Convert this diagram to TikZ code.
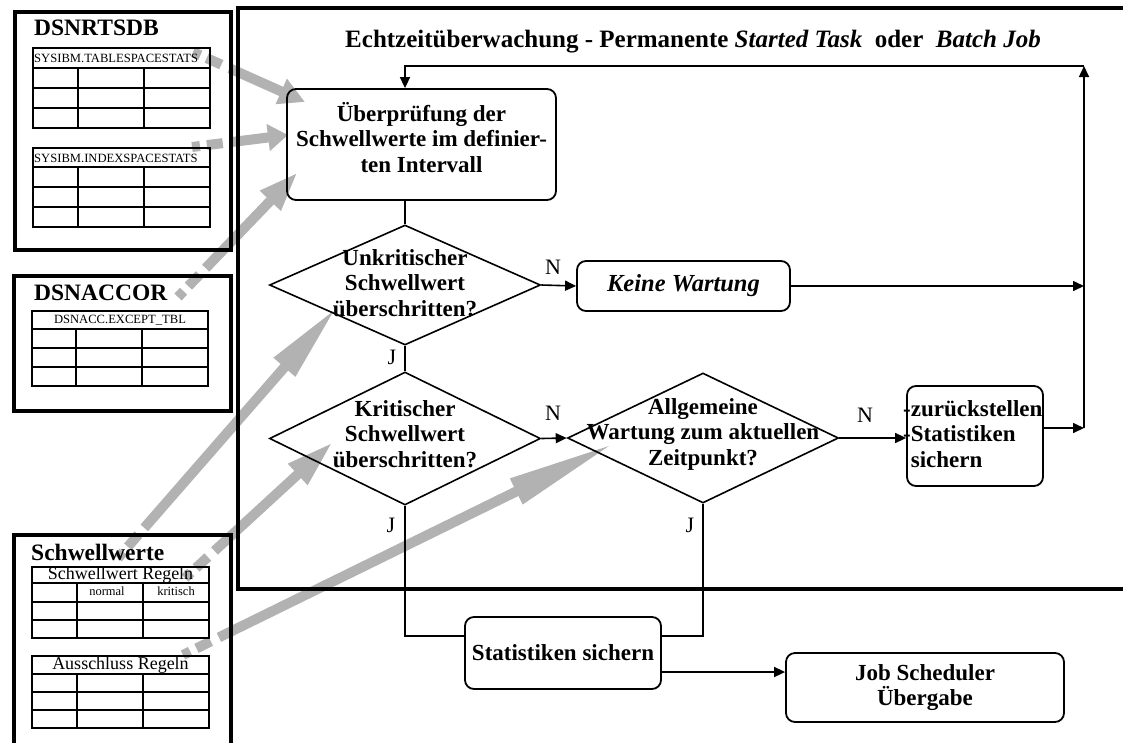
\documentclass[tikz,border=0pt]{standalone}
\usepackage{fontspec}
\setmainfont{Liberation Serif}
\usetikzlibrary{arrows.meta,shapes.geometric,calc}
\begin{document}
\begin{tikzpicture}[x=1pt,y=-1pt,
  flow/.style={line width=1.6pt},
  arr/.style={flow,-{Triangle[length=11pt,width=10pt]}},
  rbox/.style={draw,line width=1.8pt,rounded corners=9pt,inner sep=0pt,align=center,font=\fontsize{23}{25.5}\selectfont\bfseries},
  dia/.style={draw,diamond,line width=1.6pt,inner sep=0pt,minimum width=271pt},
  btext/.style={align=center,inner sep=0pt,font=\fontsize{23}{25.5}\selectfont\bfseries},
  lbl/.style={inner sep=0pt,font=\fontsize{22}{22}\selectfont},
  frame/.style={draw,line width=3.5pt},
  cont/.style={frame,rectangle,inner sep=0pt,anchor=north west},
  ttl/.style={anchor=west,inner sep=0pt,font=\fontsize{23.5}{23.5}\selectfont\bfseries},
  hdr/.style={inner sep=0pt,font=\fontsize{12.6}{12.6}\selectfont},
  hdrbig/.style={inner sep=0pt,font=\fontsize{18}{18}\selectfont},
  small/.style={inner sep=0pt,font=\fontsize{12.5}{12.5}\selectfont},
  tbl/.style={line width=2.3pt},
  grayarr/.style={color=black!30,line width=10pt,dash pattern=on 8pt off 7pt on 16pt off 9pt on 3000pt off 1pt,-{Triangle[length=#1,width=26pt]}},
  grayarr/.default=24pt
]
\useasboundingbox (0,0) rectangle (1123,742);

% gray arrow end points
\coordinate (g1s) at (193,52);  \coordinate (g1e) at (305,102);
\coordinate (g2s) at (192,147); \coordinate (g2e) at (288,135);
\coordinate (g3s) at (178,297); \coordinate (g3e) at (298,172);
\coordinate (gAs) at (118,558); \coordinate (gAe) at (337,307);
\coordinate (gBs) at (185,578); \coordinate (gBe) at (333,442);
\coordinate (gCs) at (183,655); \coordinate (gCe) at (615,443);
\draw[grayarr=26pt] (g1s) -- (g1e);
\draw[grayarr=20pt] (g2s) -- (g2e);
\draw[grayarr=40pt] (g3s) -- (g3e);
\draw[grayarr=80pt] (gAs) -- (gAe);
\draw[grayarr=48pt] (gBs) -- (gBe);
\draw[grayarr=110pt] (gCs) -- (gCe);

% main frame
\coordinate (mfTR) at (1128,8);
\coordinate (mfBR) at (1128,589);
\draw[frame] (mfTR) -- (238,8) -- (238,589) -- (mfBR);
\node[inner sep=0pt,font=\fontsize{25}{25}\selectfont\bfseries] (title) at (693,42)
  {Echtzeitüberwachung - Permanente \textit{Started Task}\ \ oder\ \ \textit{Batch Job}};

% left containers
\node[cont,minimum width=216pt,minimum height=238pt] (rtsdb) at (13,10) {};
\node[ttl] (rtsdbt) at (34,28) {DSNRTSDB};
\draw[tbl] (33,48) rectangle (210,128);
\draw[tbl] (33,68) -- (210,68) (33,88) -- (210,88) (33,108) -- (210,108) (78,68) -- (78,128) (144,68) -- (144,128);
\node[hdr,anchor=west] (h1) at (34,58.5) {SYSIBM.TABLESPACESTATS};
\draw[tbl] (33,148) rectangle (210,227);
\draw[tbl] (33,167) -- (210,167) (33,187) -- (210,187) (33,207) -- (210,207) (78,167) -- (78,227) (144,167) -- (144,227);
\node[hdr,anchor=west] (h2) at (34,158) {SYSIBM.INDEXSPACESTATS};

\node[cont,minimum width=217pt,minimum height=135pt] (accor) at (12,274) {};
\node[ttl] (accort) at (34,293) {DSNACCOR};
\draw[tbl] (32,311) rectangle (208,386);
\draw[tbl] (32,329) -- (208,329) (32,348) -- (208,348) (32,367) -- (208,367) (76,329) -- (76,386) (142,329) -- (142,386);
\node[hdr] (h3) at (120,320.5) {DSNACC.EXCEPT\_TBL};

\node[cont,minimum width=217pt,minimum height=240pt] (schw) at (12,533) {};
\node[ttl] (schwt) at (31,552) {Schwellwerte};
\draw[tbl] (32,567) rectangle (209,638);
\draw[tbl] (32,583) -- (209,583) (32,602) -- (209,602) (32,620) -- (209,620) (77,583) -- (77,638) (143,583) -- (143,638);
\node[hdrbig] (h4) at (120.5,575) {Schwellwert Regeln};
\node[small] (h4a) at (107,591) {normal};
\node[small] (h4b) at (176,591) {kritisch};
\draw[tbl] (32,656) rectangle (209,728);
\draw[tbl] (32,674) -- (209,674) (32,692) -- (209,692) (32,710) -- (209,710) (77,674) -- (77,728) (143,674) -- (143,728);
\node[hdrbig] (h5) at (120.5,665) {Ausschluss Regeln};

% flowchart
\node[rbox,minimum width=269pt,minimum height=111pt] (check) at (421.5,144.5) {};
\node[btext] (checkt) at (421.5,137.5) {Überprüfung der\\Schwellwerte im definier-\\ten Intervall};

\node[dia,minimum height=120pt] (d1) at (405,285) {};
\node[btext] (d1t) at (405,283) {Unkritischer\\Schwellwert\\überschritten?};
\node[dia,minimum height=133pt] (d2) at (405,438.5) {};
\node[btext] (d2t) at (405,434) {Kritischer\\Schwellwert\\überschritten?};
\node[dia,minimum height=130pt] (d3) at (703,438) {};
\node[btext] (d3t) at (703,434) {Allgemeine\\Wartung zum aktuellen\\Zeitpunkt?};

\node[rbox,minimum width=213pt,minimum height=50pt,font=\fontsize{24.5}{25.5}\selectfont\bfseries] (keine) at (683.5,286) {\textit{Keine Wartung}};
\node[rbox,minimum width=136pt,minimum height=100pt] (zb) at (975,436) {};
\node[btext,anchor=west,align=left] (zbt) at (903,434) {-zurückstellen\\-Statistiken\\\hphantom{-}sichern};
\node[rbox,minimum width=196pt,minimum height=72pt] (stat) at (563,653) {Statistiken sichern};
\node[rbox,minimum width=278pt,minimum height=69pt] (job) at (925,687.5) {Job Scheduler\\Übergabe};

\coordinate (loopB) at (1084,428);
\coordinate (loopT) at (1084,66);

\draw[flow] (check.south -| d1.north) -- (d1.north);
\draw[arr] (d1.east) -- (keine.west);
\draw[flow] (d1.south) -- (d2.north);
\draw[arr] (d2.east) -- (d3.west);
\draw[arr] (d3.east) -- (d3.east -| zb.west);
\draw[flow] (d2.south) |- ([yshift=17pt]stat.west);
\draw[flow] (d3.south) |- ([yshift=17pt]stat.east);
\draw[arr] ([yshift=-19pt]stat.east) -- ([yshift=-19pt]stat.east -| job.west);
\draw[arr] (keine.east) -- (keine.east -| loopB);
\draw[arr] ([yshift=8pt]zb.east) -- (loopB);
\draw[arr] (loopB) -- (loopT);
\draw[arr] (loopT) -| (check.north -| d1.north);

\node[lbl] (n1) at (553,267) {N};
\node[lbl] (n2) at (553,413) {N};
\node[lbl] (n3) at (865,415) {N};
\node[lbl] (j1) at (392,357) {J};
\node[lbl] (j2) at (391,525) {J};
\node[lbl] (j3) at (690,525) {J};
\end{tikzpicture}
\end{document}
